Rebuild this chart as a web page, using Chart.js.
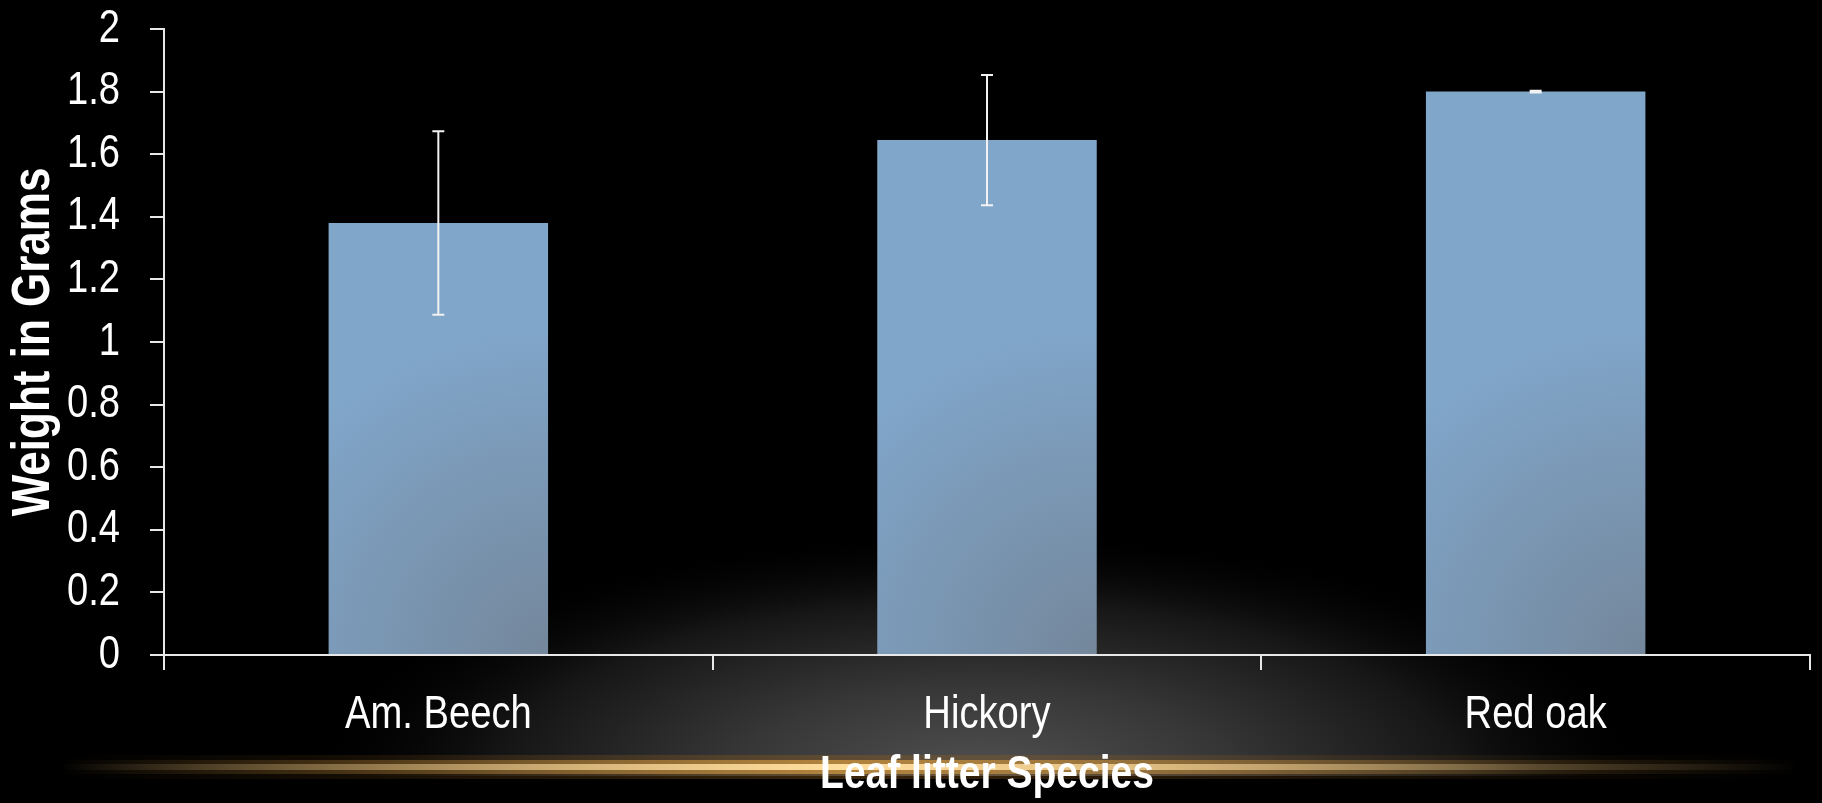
<!DOCTYPE html>
<html>
<head>
<meta charset="utf-8">
<script src="https://cdn.jsdelivr.net/npm/chart.js@4"></script>
<style>
  html, body { margin: 0; padding: 0; background: #000; }
  canvas { display: block; }
</style>
</head>
<body>
<canvas id="chart" width="1822" height="803"></canvas>
<script>
// leaf litter weights
var species = ['Am. Beech', 'Hickory', 'Red oak'];
var weights = [1.38, 1.645, 1.80];
var errors = [0.293, 0.208, 0.003];
var yTickLabels = ['0', '0.2', '0.4', '0.6', '0.8', '1', '1.2', '1.4', '1.6', '1.8', '2'];

var FONT = "'Liberation Sans Narrow', 'Arial Narrow', 'Liberation Sans', Arial, sans-serif";
var AXIS = '#e8e8e8';

// no narrow face installed, so squeeze the text horizontally
var narrowText = {
    id: 'narrowText',
    beforeInit: function(chart) {
        var c = chart.ctx, orig = c.fillText;
        c.fillText = function(text, x, y) {
            this.save();
            this.translate(x, y);
            this.scale(0.83, 1);
            orig.call(this, text, 0, 0);
            this.restore();
        };
    }
};

// black slide background with grey glow and a gold streak
var backdrop = {
    id: 'backdrop',
    beforeDraw: function(chart) {
        var ctx = chart.ctx, w = chart.width, h = chart.height;
        ctx.save();
        ctx.fillStyle = '#000';
        ctx.fillRect(0, 0, w, h);

        ctx.save();
        ctx.translate(980, 772);
        ctx.scale(1, 0.36);
        var g = ctx.createRadialGradient(0, 0, 0, 0, 0, 680);
        g.addColorStop(0, 'rgba(80,80,80,1)');
        g.addColorStop(0.35, 'rgba(55,55,55,1)');
        g.addColorStop(0.7, 'rgba(22,22,22,1)');
        g.addColorStop(1, 'rgba(0,0,0,0)');
        ctx.fillStyle = g;
        ctx.fillRect(-700, -700, 1400, 1400);
        ctx.restore();

        ctx.fillStyle = '#000';
        ctx.fillRect(0, 776, w, h - 776);

        function streak(alpha, y0, hgt, col) {
            var lg = ctx.createLinearGradient(60, 0, 1800, 0);
            lg.addColorStop(0, 'rgba(' + col + ',0)');
            lg.addColorStop(0.25, 'rgba(' + col + ',' + (alpha * 0.55) + ')');
            lg.addColorStop(0.45, 'rgba(' + col + ',' + alpha + ')');
            lg.addColorStop(0.62, 'rgba(' + col + ',' + (alpha * 0.7) + ')');
            lg.addColorStop(0.85, 'rgba(' + col + ',' + (alpha * 0.2) + ')');
            lg.addColorStop(1, 'rgba(' + col + ',0)');
            ctx.fillStyle = lg;
            ctx.fillRect(0, y0, w, hgt);
        }
        streak(0.4, 755, 24, '140,90,25');
        streak(0.75, 760, 14, '205,150,65');
        streak(1, 764, 6, '255,222,160');
        ctx.restore();
    }
};

// per-bar gradient, darker toward the lower right corner
function barFill(context) {
    var chart = context.chart;
    if (!chart.chartArea) return '#80a6ca';
    var x = chart.scales.x, y = chart.scales.y;
    var half = (x.width / species.length) * 0.4 / 2;
    var right = x.getPixelForValue(context.dataIndex) + half;
    var base = y.getPixelForValue(0);
    var g = chart.ctx.createRadialGradient(right, base, 0, right, base, 330);
    g.addColorStop(0, '#74879b');
    g.addColorStop(0.5, '#7a96b2');
    g.addColorStop(1, '#80a6ca');
    return g;
}

var errorBars = {
    id: 'errorBars',
    afterDatasetsDraw: function(chart) {
        var ctx = chart.ctx, y = chart.scales.y;
        ctx.save();
        ctx.strokeStyle = '#f2f2f2';
        ctx.lineWidth = 2;
        chart.getDatasetMeta(0).data.forEach(function(bar, i) {
            var top = y.getPixelForValue(weights[i] + errors[i]);
            var bot = y.getPixelForValue(weights[i] - errors[i]);
            ctx.beginPath();
            ctx.moveTo(bar.x, top); ctx.lineTo(bar.x, bot);
            ctx.moveTo(bar.x - 6, top); ctx.lineTo(bar.x + 6, top);
            ctx.moveTo(bar.x - 6, bot); ctx.lineTo(bar.x + 6, bot);
            ctx.stroke();
        });
        ctx.restore();
    }
};

var data = {
    labels: species,
    datasets: [{
        label: 'Weight',
        data: weights,
        backgroundColor: barFill,
        borderWidth: 0,
        categoryPercentage: 1,
        barPercentage: 0.4
    }]
};

var options = {
    responsive: false,
    animation: false,
    layout: { padding: { top: 29, right: 12, left: 0, bottom: 0 } },
    scales: {
        x: {
            offset: true,
            afterFit: function(scale) { scale.height = 148; },
            grid: {
                display: true,
                offset: true,
                drawOnChartArea: false,
                drawTicks: true,
                tickLength: 15,
                color: AXIS,
                lineWidth: 2
            },
            border: { display: true, color: AXIS, width: 2 },
            ticks: {
                color: '#fff',
                padding: 18,
                font: { family: FONT, size: 46 }
            },
            title: {
                display: true,
                text: 'Leaf litter Species',
                color: '#fff',
                padding: { top: 0, bottom: 0 },
                font: { family: FONT, size: 47, weight: 'bold' }
            }
        },
        y: {
            min: 0,
            max: 2,
            afterFit: function(scale) {
                scale.width = 164;
                scale.paddingTop = 0;
                scale.paddingBottom = 0;
            },
            grid: {
                display: true,
                drawOnChartArea: false,
                drawTicks: true,
                tickLength: 14,
                color: AXIS,
                lineWidth: 2
            },
            border: { display: true, color: AXIS, width: 2 },
            ticks: {
                stepSize: 0.2,
                color: '#fff',
                padding: 30,
                font: { family: FONT, size: 46 },
                callback: function(value, index) {
                    return yTickLabels[index];
                }
            },
            title: {
                display: true,
                text: 'Weight in Grams',
                color: '#fff',
                padding: { top: 3, bottom: 0 },
                font: { family: FONT, size: 53, weight: 'bold' }
            }
        }
    },
    plugins: {
        legend: { display: false },
        tooltip: { enabled: false }
    }
};

var ctx = document.getElementById('chart').getContext('2d');
var chart = new Chart(ctx, {
    type: 'bar',
    data: data,
    options: options,
    plugins: [narrowText, backdrop, errorBars]
});
</script>
</body>
</html>
